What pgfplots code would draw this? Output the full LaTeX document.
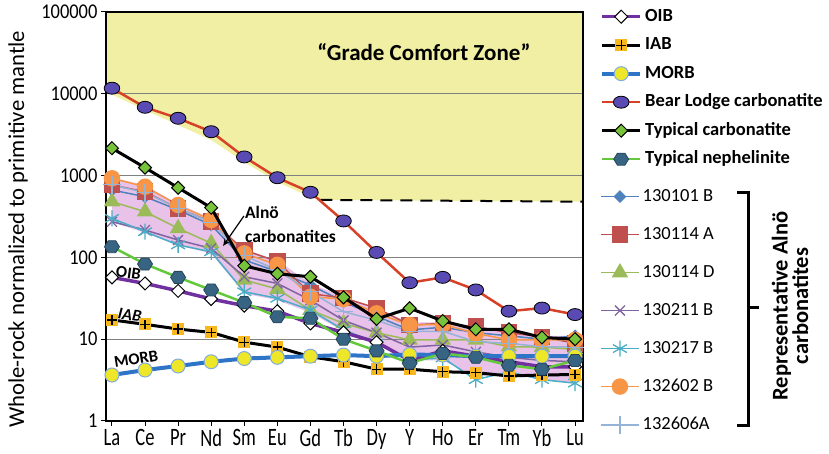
\documentclass[border=0pt]{standalone}
\usepackage{graphicx}
\usepackage{pgfplots}
\pgfplotsset{compat=1.18}
\usepackage{fontspec}
\setmainfont{Carlito}
\usetikzlibrary{arrows.meta,plotmarks}
\newcommand{\fs}[1]{\fontsize{#1}{#1}\selectfont}
\newcommand{\nx}[1]{\scalebox{0.74}[1]{#1}}
\newcommand{\ny}[1]{\scalebox{0.88}[1]{#1}}

\definecolor{zoneyellow}{RGB}{240,239,163}
\definecolor{alnopink}{RGB}{232,194,232}
\definecolor{gridgray}{RGB}{128,128,128}
\definecolor{oibpurple}{RGB}{112,48,160}
\definecolor{iaborange}{RGB}{247,183,30}
\definecolor{morbblue}{RGB}{46,117,200}
\definecolor{morbyellow}{RGB}{238,230,40}
\definecolor{blred}{RGB}{215,65,40}
\definecolor{blblue}{RGB}{90,75,180}
\definecolor{carbgreen}{RGB}{120,195,60}
\definecolor{nephgreen}{RGB}{100,200,60}
\definecolor{nephteal}{RGB}{55,100,130}
\definecolor{xlblue}{RGB}{79,129,189}
\definecolor{xlred}{RGB}{192,80,77}
\definecolor{xlgreen}{RGB}{155,187,89}
\definecolor{xlpurple}{RGB}{128,100,162}
\definecolor{xlcyan}{RGB}{75,172,198}
\definecolor{xlorange}{RGB}{247,150,70}
\definecolor{xlsteel}{RGB}{149,179,215}

\pgfdeclareplotmark{rdiamond}{%
  \pgfpathmoveto{\pgfqpoint{0pt}{\pgfplotmarksize}}%
  \pgfpathlineto{\pgfqpoint{\pgfplotmarksize}{0pt}}%
  \pgfpathlineto{\pgfqpoint{0pt}{-\pgfplotmarksize}}%
  \pgfpathlineto{\pgfqpoint{-\pgfplotmarksize}{0pt}}%
  \pgfpathclose\pgfusepathqfillstroke}
\pgfdeclareplotmark{hexa}{%
  \pgfpathmoveto{\pgfqpoint{-\pgfplotmarksize}{0pt}}%
  \pgfpathlineto{\pgfqpoint{-0.5\pgfplotmarksize}{0.8\pgfplotmarksize}}%
  \pgfpathlineto{\pgfqpoint{0.5\pgfplotmarksize}{0.8\pgfplotmarksize}}%
  \pgfpathlineto{\pgfqpoint{\pgfplotmarksize}{0pt}}%
  \pgfpathlineto{\pgfqpoint{0.5\pgfplotmarksize}{-0.8\pgfplotmarksize}}%
  \pgfpathlineto{\pgfqpoint{-0.5\pgfplotmarksize}{-0.8\pgfplotmarksize}}%
  \pgfpathclose\pgfusepathqfillstroke}
\pgfdeclareplotmark{ell}{%
  \pgfpathellipse{\pgfpointorigin}{\pgfqpoint{1.3\pgfplotmarksize}{0pt}}{\pgfqpoint{0pt}{\pgfplotmarksize}}%
  \pgfusepathqfillstroke}
\pgfdeclareplotmark{sqplus}{%
  \pgfpathrectangle{\pgfqpoint{-\pgfplotmarksize}{-\pgfplotmarksize}}{\pgfqpoint{2\pgfplotmarksize}{2\pgfplotmarksize}}%
  \pgfusepathqfill
  \pgfpathmoveto{\pgfqpoint{-0.8\pgfplotmarksize}{0pt}}\pgfpathlineto{\pgfqpoint{0.8\pgfplotmarksize}{0pt}}%
  \pgfpathmoveto{\pgfqpoint{0pt}{-0.8\pgfplotmarksize}}\pgfpathlineto{\pgfqpoint{0pt}{0.8\pgfplotmarksize}}%
  \pgfusepathqstroke}

\begin{document}
\begin{tikzpicture}
\useasboundingbox (0,0) rectangle (829pt,454pt);
% ---------- axis 0: shaded zones ----------
\begin{axis}[at={(106pt,33pt)}, anchor=south west,
  scale only axis, width=477pt, height=409pt,
  xmin=-0.18, xmax=14.24, ymin=1, ymax=100000, ymode=log,
  hide axis]
\addplot[fill=zoneyellow, draw=none] coordinates {
 (-0.18,100000) (14.24,100000) (14.24,480) (6.3,505) (6,547) (5,835) (4,1466) (3,2720) (2,4160) (1,6320) (0,9800) (-0.18,10600)} -- cycle;
\addplot[fill=alnopink, draw=none] coordinates {
 (0,950) (1,760) (2,450) (3,300) (4,125) (5,92) (6,48) (7,33) (8,24) (9,16) (10,16) (11,14.5) (12,12.5) (13,11) (14,11)
 (14,2.9) (13,3.2) (12,3.8) (11,3.5) (10,5.5) (9,5.5) (8,8.5) (7,12.5) (6,21) (5,30) (4,36) (3,112) (2,140) (1,200) (0,270)} -- cycle;
\end{axis}

% ---------- axis 1: frame, grid, Alno samples ----------
\begin{axis}[at={(106pt,33pt)}, anchor=south west,
  scale only axis, width=477pt, height=409pt,
  xmin=-0.18, xmax=14.24, ymin=1, ymax=100000, ymode=log,
  xtick={0,...,14},
  xticklabels={\nx{La},\nx{Ce},\nx{Pr},\nx{Nd},\nx{Sm},\nx{Eu},\nx{Gd},\nx{Tb},\nx{Dy},\nx{Y},\nx{Ho},\nx{Er},\nx{Tm},\nx{Yb},\nx{Lu}},
  ytick={1,10,100,1000,10000,100000},
  yticklabels={\ny{1},\ny{10},\ny{100},\ny{1000},\ny{10000},\ny{100000}},
  yminorticks=false,
  ymajorgrids, grid style={gridgray, line width=1.2pt},
  tick align=outside, xtick pos=bottom, ytick pos=left,
  major tick length=5pt,
  tick style={black, line width=1pt},
  axis line style={black, line width=1.2pt},
  xticklabel style={font=\fs{25}},
  yticklabel style={font=\fs{21}},
  ylabel={Whole-rock normalized to primitive mantle},
  ylabel style={font=\fs{22.7}, at={(axis description cs:-0.1845,0.469)}, anchor=center},
  legend image code/.code={\draw[mark repeat=2,mark phase=2,#1] plot coordinates {(0pt,0pt) (19pt,0pt) (38pt,0pt)};},
  legend cell align=left,
  legend style={draw=none, fill=none, at={(1.0356,0.570)}, anchor=north west,
    font=\fs{18.5}, row sep=21pt, inner sep=0pt,
    nodes={inner sep=0pt, text height=13pt, text depth=4pt},
    /tikz/every odd column/.append style={column sep=3pt}},
]
\addplot[forget plot, black, line width=2pt, dash pattern=on 12pt off 8pt] coordinates {(6.3,505) (14.24,480)};

\addplot[xlblue, line width=1.5pt, mark=rdiamond, mark size=6pt, mark options={fill=xlblue, draw=xlblue, line width=0.5pt}] coordinates {
 (0,667) (1,552) (2,380) (3,249) (4,93) (5,67) (6,46) (7,28.7) (8,19) (9,13) (10,14) (11,12) (12,11) (13,10) (14,11)};
\addlegendentry{130101 B}
\addplot[xlred, line width=1.5pt, mark=square*, mark size=7.5pt, mark options={fill=xlred, draw=xlred}] coordinates {
 (0,767) (1,635) (2,398) (3,273) (4,123) (5,89) (6,36) (7,32) (8,24) (9,14.9) (10,15.6) (11,14.2) (12,12) (13,10.7) (14,8.9)};
\addlegendentry{130114 A}
\addplot[xlgreen, line width=1.5pt, mark=triangle*, mark size=8pt, mark options={fill=xlgreen, draw=xlgreen}] coordinates {
 (0,480) (1,362) (2,227) (3,149) (4,53) (5,41) (6,22.7) (7,15.6) (8,12) (9,9.8) (10,9.8) (11,9.8) (12,8.1) (13,8) (14,7.5)};
\addlegendentry{130114 D}
\addplot[xlpurple, line width=1.5pt, mark=x, mark size=7pt, mark options={line width=1.3pt}] coordinates {
 (0,273) (1,216) (2,163) (3,129) (4,58) (5,48) (6,30) (7,17) (8,12) (9,8) (10,8.5) (11,7) (12,6) (13,5.5) (14,5.3)};
\addlegendentry{130211 B}
\addplot[xlcyan, line width=1.5pt, mark=asterisk, mark size=8pt, mark options={line width=1.3pt}] coordinates {
 (0,300) (1,206) (2,142) (3,117) (4,38) (5,31.6) (6,22.7) (7,13) (8,9) (9,5.6) (10,5.9) (11,3.2) (12,4) (13,3.2) (14,2.9)};
\addlegendentry{130217 B}
\addplot[xlorange, line width=1.5pt, mark=*, mark size=7.5pt, mark options={fill=xlorange, draw=xlorange}] coordinates {
 (0,927) (1,731) (2,437) (3,287) (4,112) (5,81) (6,33) (7,31) (8,20.7) (9,14.9) (10,15.2) (11,11.8) (12,9.8) (13,9.8) (14,9.8)};
\addlegendentry{132602 B}
\addplot[xlsteel, line width=1.5pt, mark=+, mark size=9pt, mark options={line width=1.2pt}] coordinates {
 (0,770) (1,620) (2,400) (3,270) (4,105) (5,70) (6,38) (7,21.7) (8,17) (9,12.4) (10,12.5) (11,9.3) (12,8.9) (13,8.1) (14,8)};
\addlegendentry{132606A}
\end{axis}

% ---------- axis 2: reference patterns ----------
\begin{axis}[at={(106pt,33pt)}, anchor=south west,
  scale only axis, width=477pt, height=409pt,
  xmin=-0.18, xmax=14.24, ymin=1, ymax=100000, ymode=log,
  hide axis,
  legend image code/.code={\draw[mark repeat=2,mark phase=2,#1] plot coordinates {(0pt,0pt) (19pt,0pt) (38pt,0pt)};},
  legend cell align=left,
  legend style={draw=none, fill=none, at={(1.0356,1.0098)}, anchor=north west,
    font=\fs{18.5}\bfseries, row sep=11.5pt, inner sep=0pt,
    nodes={inner sep=0pt, text height=13pt, text depth=4pt},
    /tikz/every odd column/.append style={column sep=3pt}},
]
\addplot[oibpurple, line width=3.5pt, mark=rdiamond, mark size=6.5pt, mark options={fill=white, draw=black, line width=1pt}] coordinates {
 (0,57) (1,48) (2,39) (3,31) (4,25.7) (5,22) (6,15.6) (7,12.1) (8,9.2) (9,5.5) (10,7.2) (11,6.2) (12,5.3) (13,4.6) (14,4.6)};
\addlegendentry{OIB}
\addplot[black, line width=3pt, mark=sqplus, mark size=6pt, mark options={fill=iaborange, draw=black, line width=1.3pt}] coordinates {
 (0,17.2) (1,15.2) (2,13.3) (3,12.1) (4,9.2) (5,8.0) (6,6.1) (7,5.3) (8,4.3) (9,4.3) (10,4.0) (11,3.9) (12,3.55) (13,3.65) (14,3.7)};
\addlegendentry{IAB}
\addplot[morbblue, line width=4pt, mark=*, mark size=7pt, mark options={fill=morbyellow, draw=morbblue!60!white, line width=1pt}] coordinates {
 (0,3.65) (1,4.2) (2,4.7) (3,5.3) (4,5.8) (5,6.0) (6,6.2) (7,6.4) (8,6.2) (9,6.5) (10,6.4) (11,6.2) (12,6.2) (13,6.2) (14,6.2)};
\addlegendentry{MORB}
\addplot[blred, line width=2.5pt, mark=ell, mark size=6pt, mark options={fill=blblue, draw=black, line width=0.8pt}] coordinates {
 (0,11700) (1,6840) (2,5020) (3,3440) (4,1690) (5,942) (6,625) (7,279) (8,115) (9,49) (10,57) (11,40) (12,22) (13,24) (14,20)};
\addlegendentry{Bear Lodge carbonatite}
\addplot[black, line width=3pt, mark=rdiamond, mark size=6.5pt, mark options={fill=carbgreen, draw=black, line width=1pt}] coordinates {
 (0,2160) (1,1250) (2,711) (3,405) (4,79) (5,63) (6,58) (7,32.5) (8,17.7) (9,23.9) (10,16.7) (11,13.2) (12,13.2) (13,10.5) (14,10)};
\addlegendentry{Typical carbonatite}
\addplot[nephgreen, line width=2.5pt, mark=hexa, mark size=7.5pt, mark options={fill=nephteal, draw=nephteal!70!black, line width=0.8pt}] coordinates {
 (0,135) (1,83) (2,57) (3,40) (4,28) (5,18.8) (6,18) (7,10) (8,7.2) (9,5.1) (10,6.7) (11,6) (12,4.8) (13,4.3) (14,5.5)};
\addlegendentry{Typical nephelinite}

\node[font=\fs{23}\bfseries] at (axis cs:9.43,32400) {“Grade Comfort Zone”};
\node[font=\fs{17.5}\bfseries, anchor=base west, inner sep=0pt] at (axis cs:4.02,303) {Alnö};
\node[font=\fs{17.5}\bfseries, anchor=base west, inner sep=0pt] at (axis cs:4.02,150) {carbonatites};
\draw[black, line width=1.2pt, -{Stealth[length=7pt,width=6pt]}] (axis cs:3.99,321) -- (axis cs:3.36,138);
\node[font=\fs{16.5}\bfseries, rotate=-8] at (axis cs:0.50,64.5) {OIB};
\node[font=\fs{16.5}\bfseries\itshape, rotate=-8] at (axis cs:0.54,19.8) {IAB};
\node[font=\fs{16.5}\bfseries, rotate=9] at (axis cs:0.73,5.73) {MORB};
\end{axis}

% bracket and group label
\draw[black, line width=3pt] (737pt,261pt) -- (748pt,261pt) -- (748pt,28pt) -- (737pt,28pt);
\draw[black, line width=3pt] (748pt,146pt) -- (759pt,146pt);
\node[font=\fs{22.5}\bfseries, rotate=90, align=center, inner sep=0pt] at (790pt,148pt) {Representative Alnö\\[-2pt]carbonatites};
\end{tikzpicture}
\end{document}
